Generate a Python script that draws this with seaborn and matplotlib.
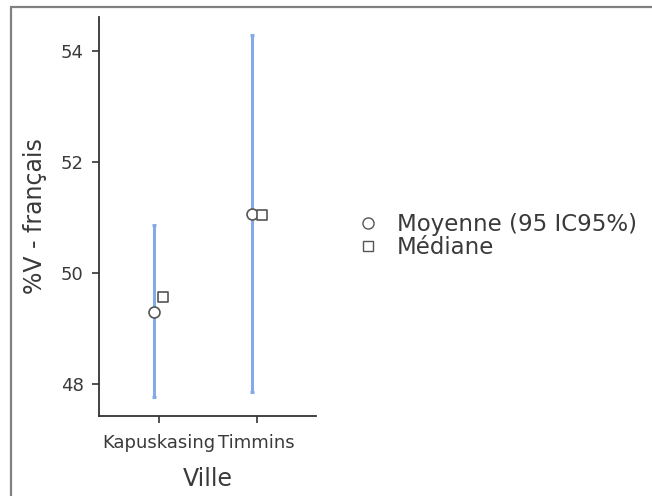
import numpy as np
import pandas as pd
import matplotlib
matplotlib.use("Agg")
import matplotlib.pyplot as plt
import seaborn as sns
from matplotlib.patches import Rectangle
from matplotlib.lines import Line2D

# Values per city
villes = ["Kapuskasing", "Timmins"]
moyenne = [49.30, 51.06]
mediane = [49.56, 51.05]
ic_bas = [47.77, 47.86]
ic_haut = [50.86, 54.28]

sns.set_theme(style="ticks")
plt.rcParams["font.family"] = ["DejaVu Sans"]

df = pd.DataFrame({"Ville": villes, "Moyenne": moyenne, "Mediane": mediane,
                   "Bas": ic_bas, "Haut": ic_haut})
pos = np.arange(len(villes))
dodge = 0.05

fig = plt.figure(figsize=(6.52, 4.96), dpi=100)
ax = fig.add_axes([0.1518, 0.1619, 0.3329, 0.8038])

ci_color = "#84AAEA"
edge = "#555555"
txt = "#3a3a3a"

# confidence intervals
ax.vlines(pos - dodge, df["Bas"], df["Haut"], color=ci_color, lw=2.2, zorder=1)
ax.scatter(np.r_[pos - dodge, pos - dodge], np.r_[df["Bas"], df["Haut"]],
           marker="_", s=12, color=ci_color, lw=2.2, zorder=1)

# mean and median points
sns.scatterplot(x=pos - dodge, y=df["Moyenne"], marker="o", s=62,
                facecolor="white", edgecolor=edge, linewidth=1.2, ax=ax, zorder=3)
sns.scatterplot(x=pos + dodge, y=df["Mediane"], marker="s", s=56,
                facecolor="white", edgecolor=edge, linewidth=1.2, ax=ax, zorder=3)

ax.set_xlim(-0.607, 1.605)
ax.set_ylim(47.43, 54.61)
ax.set_xticks(pos)
ax.set_xticklabels(villes)
ax.set_yticks([48, 50, 52, 54])
ax.tick_params(axis="both", labelsize=13, colors="#333333", length=5, width=1.2,
               labelcolor=txt)
ax.tick_params(axis="x", pad=8)
ax.tick_params(axis="y", pad=6)
for side in ["top", "right"]:
    ax.spines[side].set_visible(False)
for side in ["left", "bottom"]:
    ax.spines[side].set_color("#333333")
    ax.spines[side].set_linewidth(1.3)

ax.set_xlabel("Ville", fontsize=17, color=txt, labelpad=11)
ax.set_ylabel("%V - français", fontsize=17, color=txt, labelpad=10)

handles = [
    Line2D([], [], marker="o", linestyle="none", markersize=8,
           markerfacecolor="white", markeredgecolor=edge, markeredgewidth=1.0),
    Line2D([], [], marker="s", linestyle="none", markersize=7,
           markerfacecolor="white", markeredgecolor=edge, markeredgewidth=1.0),
]
fig.legend(handles, ["Moyenne (95 IC95%)", "Médiane"], loc="upper left",
           bbox_to_anchor=(0.537, 0.590), frameon=False, fontsize=16.5,
           handlelength=0.8, handletextpad=0.85, labelspacing=0.0,
           labelcolor=txt, borderaxespad=0)

# outer frame
fig.patches.append(Rectangle((11 / 652, -0.1), 1.2, 1 - 7 / 496 + 0.1,
                             transform=fig.transFigure, fill=False,
                             edgecolor="#808080", lw=1.6))

fig.savefig("out.png", dpi=100)
